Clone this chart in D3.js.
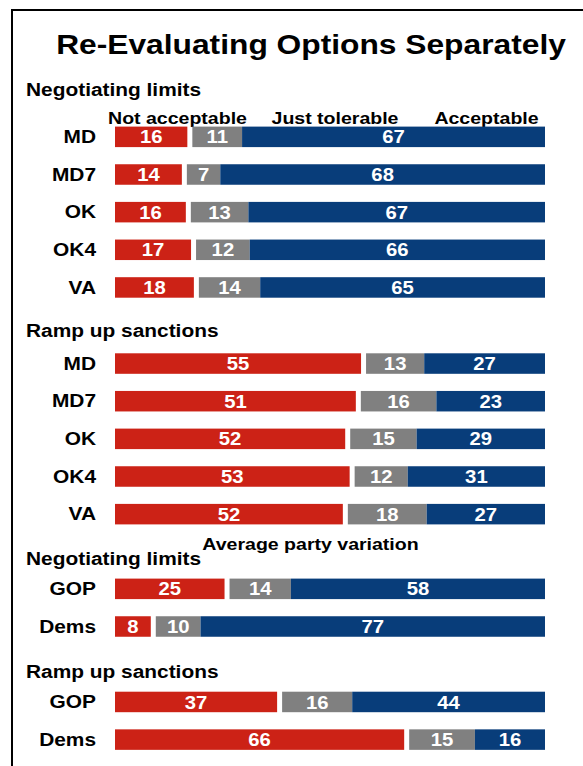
<!DOCTYPE html>
<html><head><meta charset="utf-8">
<script src="https://cdn.jsdelivr.net/npm/d3@7"></script>
<style>
html,body{margin:0;padding:0;background:#fff;}
svg{display:block;font-family:"Liberation Sans",Arial,sans-serif;font-weight:bold;}
</style></head>
<body>
<script>
// ---- data ----
const title = "Re-Evaluating Options Separately";
const seriesNames = ["Not acceptable", "Just tolerable", "Acceptable"];
const sectionTitles = ["Negotiating limits", "Ramp up sanctions", "Negotiating limits", "Ramp up sanctions"];
const subTitle = "Average party variation";
const stateLabels = ["MD", "MD7", "OK", "OK4", "VA"];
const partyLabels = ["GOP", "Dems"];
const negStatesNot = [16, 14, 16, 17, 18];
const negStatesJust = [11, 7, 13, 12, 14];
const negStatesAcc = [67, 68, 67, 66, 65];
const rampStatesNot = [55, 51, 52, 53, 52];
const rampStatesJust = [13, 16, 15, 12, 18];
const rampStatesAcc = [27, 23, 29, 31, 27];
const negPartyNot = [25, 8];
const negPartyJust = [14, 10];
const negPartyAcc = [58, 77];
const rampPartyNot = [37, 66];
const rampPartyJust = [16, 15];
const rampPartyAcc = [44, 16];

const colors = ["#CC2216", "#808080", "#083D7A"];

const W = 583, H = 766;
const svg = d3.select("body").append("svg").attr("width", W).attr("height", H);

function stext(parent, x, y, anchor, size, sx, str, fill) {
  return parent.append("text")
    .attr("transform", `translate(${x},${y}) scale(${sx},1)`)
    .attr("text-anchor", anchor).attr("font-size", size)
    .attr("fill", fill || "#000").text(str);
}

// frame
svg.append("rect").attr("x", 12).attr("y", 10).attr("width", W + 20).attr("height", H + 20)
  .attr("fill", "none").attr("stroke", "#000").attr("stroke-width", 2);

stext(svg, 311, 54, "middle", 28, 1.134, title);

// legend
const legendX = [177.5, 335, 486.5];
seriesNames.forEach((d, i) => stext(svg, legendX[i], 123.5, "middle", 17, 1.15, d));

stext(svg, 310.5, 550, "middle", 17, 1.15, subTitle);

const sections = [
  {title: sectionTitles[0], labels: stateLabels, a: negStatesNot, b: negStatesJust, c: negStatesAcc, hy: 96, top: 126.6},
  {title: sectionTitles[1], labels: stateLabels, a: rampStatesNot, b: rampStatesJust, c: rampStatesAcc, hy: 337, top: 353.3},
  {title: sectionTitles[2], labels: partyLabels, a: negPartyNot, b: negPartyJust, c: negPartyAcc, hy: 565, top: 578.6},
  {title: sectionTitles[3], labels: partyLabels, a: rampPartyNot, b: rampPartyJust, c: rampPartyAcc, hy: 678, top: 691.7}
];

const x0 = 115, x1 = 545, gap = 5, barH = 20.5, step = 37.65;

sections.forEach(s => {
  stext(svg, 26, s.hy, "start", 18, 1.16, s.title);
  const y = d3.scaleLinear().domain([0, 1]).range([s.top, s.top + step]);
  s.labels.forEach((lab, i) => {
    const vals = [s.a[i], s.b[i], s.c[i]];
    const total = d3.sum(vals);
    const x = d3.scaleLinear().domain([0, total]).range([0, x1 - x0 - gap]);
    const top = y(i);
    const g = svg.append("g");
    stext(g, 96, top + 16.5, "end", 18, 1.16, lab);
    let cum = 0;
    vals.forEach((v, k) => {
      const xs = x0 + x(cum) + (k > 0 ? gap : 0);
      const w = x(v);
      g.append("rect").attr("x", xs).attr("y", top).attr("width", w).attr("height", barH)
        .attr("fill", colors[k]);
      stext(g, xs + w / 2, top + 16.8, "middle", 17.5, 1.16, v, "#fff");
      cum += v;
    });
  });
});
</script>
</body></html>
